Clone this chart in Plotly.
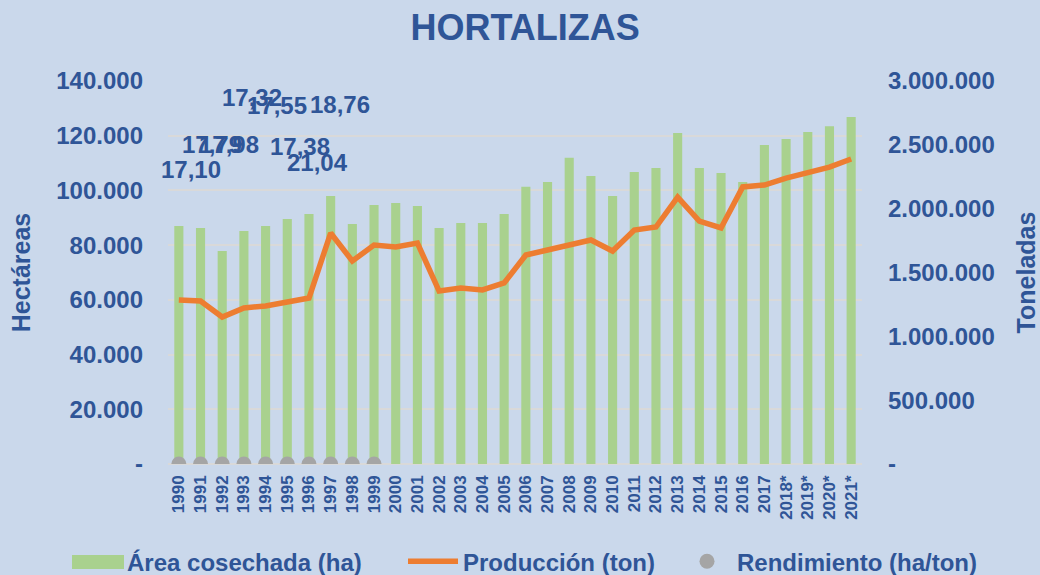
import plotly.graph_objects as go

years = ["1990", "1991", "1992", "1993", "1994", "1995", "1996", "1997", "1998", "1999",
         "2000", "2001", "2002", "2003", "2004", "2005", "2006", "2007", "2008", "2009",
         "2010", "2011", "2012", "2013", "2014", "2015", "2016", "2017", "2018*", "2019*",
         "2020*", "2021*"]

area_ha = [87000, 86300, 77900, 85200, 87000, 89600, 91400, 98000, 87700, 94700,
           95400, 94300, 86300, 88100, 88100, 91400, 101300, 103100, 111900, 105300,
           98000, 106700, 108200, 121000, 108200, 106400, 103100, 116600, 118800, 121400,
           123500, 126800]

produccion_ton = [1284000, 1277000, 1151000, 1222000, 1238000, 1269000, 1300000, 1809000, 1590000, 1715000,
                  1700000, 1731000, 1355000, 1379000, 1363000, 1418000, 1637000, 1676000, 1715000, 1755000,
                  1668000, 1833000, 1856000, 2091000, 1903000, 1849000, 2170000, 2185000, 2240000, 2279000,
                  2326000, 2389000]

rend_years = ["1990", "1991", "1992", "1993", "1994", "1995", "1996", "1997", "1998", "1999"]
rendimiento = [17.10, 17.79, 17.98, 17.32, 17.55, 17.38, 21.04, 18.76, 17.5, 18.0]
rend_labels = ["17,10", "17,79", "17,98", "17,32", "17,55", "17,38", "21,04", "18,76", "", ""]
# manual label displacement (pixels) as in the original chart
label_dx = [12, 11, 7, 8, 11, 13, 9, 9, 0, 0]
label_dy = [295, 320, 320, 367, 359, 318, 302, 360, 0, 0]

left_ticks = [0, 20000, 40000, 60000, 80000, 100000, 120000, 140000]
left_text = ["-", "20.000", "40.000", "60.000", "80.000", "100.000", "120.000", "140.000"]
right_ticks = [0, 500000, 1000000, 1500000, 2000000, 2500000, 3000000]
right_text = ["-", "500.000", "1.000.000", "1.500.000", "2.000.000", "2.500.000", "3.000.000"]

BG = "#CAD8EB"
TXT = "#2F5597"
GREEN = "#A9D18E"
FONT = "Liberation Sans, Arial, sans-serif"

fig = go.Figure()
fig.add_trace(go.Bar(x=years, y=area_ha, name="Área cosechada (ha)", legend="legend",
                     marker=dict(color=GREEN, line=dict(width=0)), yaxis="y"))
fig.add_trace(go.Scatter(x=years, y=produccion_ton, name="Producción (ton)", mode="lines",
                         legend="legend2",
                         line=dict(color="#ED7D31", width=5.5), yaxis="y2"))
fig.add_trace(go.Scatter(x=rend_years, y=rendimiento, name="Rendimiento (ha/ton)", mode="markers",
                         legend="legend3",
                         marker=dict(color="#A5A5A5", size=15), yaxis="y"))

xcat = list(range(len(years)))
for yr, lab, dx, dy in zip(rend_years, rend_labels, label_dx, label_dy):
    if lab:
        fig.add_annotation(x=xcat[years.index(yr)], y=0, xref="x", yref="y", text=lab,
                           showarrow=False, xshift=dx, yshift=dy,
                           font=dict(family=FONT, size=24, color=TXT, weight="bold"))

# wide, flat legend swatch for the bar series (as in the original legend)
fig.add_shape(type="rect", xref="paper", yref="paper",
              x0=(72 - 168) / 694, x1=(124 - 168) / 694,
              y0=(464 - 569) / 383, y1=(464 - 555) / 383,
              fillcolor=GREEN, line=dict(width=0), layer="above")

leg_common = dict(orientation="h", yanchor="middle", y=-0.255, xanchor="left",
                  font=dict(family=FONT, size=24, color=TXT, weight="bold"),
                  bgcolor="rgba(0,0,0,0)", itemwidth=50, borderwidth=0)

fig.update_layout(
    width=1040, height=575,
    paper_bgcolor=BG, plot_bgcolor=BG,
    margin=dict(l=168, r=178, t=81, b=111, autoexpand=False),
    bargap=0.58,
    title=dict(text="HORTALIZAS", x=0.505, xanchor="center", y=0.952, yanchor="middle",
               font=dict(family=FONT, size=36, color=TXT, weight="bold")),
    font=dict(family=FONT, color=TXT),
    showlegend=True,
    legend=dict(x=(67 - 168) / 694, **leg_common),
    legend2=dict(x=(403 - 168) / 694, **leg_common),
    legend3=dict(x=(677 - 168) / 694, **leg_common),
    xaxis=dict(type="category", categoryorder="array", categoryarray=years,
               range=[-0.5, len(years) - 0.5], automargin=False,
               showgrid=False, showline=False, zeroline=False,
               tickangle=-90, ticks="", ticklabelstandoff=7,
               tickfont=dict(family=FONT, size=17, color=TXT, weight="bold")),
    yaxis=dict(range=[0, 140000], tickvals=left_ticks, ticktext=left_text, automargin=False,
               showgrid=True, gridcolor="#D9D9D9", gridwidth=1.5, zeroline=True,
               zerolinecolor="#D9D9D9", zerolinewidth=1.5, showline=False, ticks="",
               ticklabelstandoff=24,
               tickfont=dict(family=FONT, size=24, color=TXT, weight="bold"),
               title=dict(text="Hectáreas", standoff=18,
                          font=dict(family=FONT, size=25, color=TXT, weight="bold"))),
    yaxis2=dict(range=[0, 3000000], tickvals=right_ticks, ticktext=right_text,
                overlaying="y", side="right", showgrid=False, zeroline=False, showline=False,
                automargin=False, ticks="", ticklabelstandoff=25,
                tickfont=dict(family=FONT, size=24, color=TXT, weight="bold"),
                title=dict(text="Toneladas", standoff=24,
                           font=dict(family=FONT, size=25, color=TXT, weight="bold"))),
)

fig.write_html("out.html", config={"displayModeBar": False},
               post_script="document.body.style.margin='0';")
